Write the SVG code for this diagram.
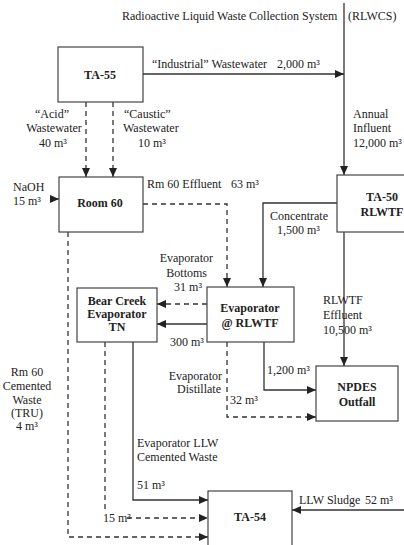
<svg xmlns="http://www.w3.org/2000/svg" width="404" height="545" viewBox="0 0 404 545">
<defs>
<style>
.box{fill:#fff;stroke:#444;stroke-width:1.2}
.bl{font-family:'Liberation Serif','Times New Roman','DejaVu Serif',serif;font-size:12px;font-weight:bold;fill:#222;text-anchor:middle}
.lb{font-family:'Liberation Serif','Times New Roman','DejaVu Serif',serif;font-size:12px;fill:#222}
.c{text-anchor:middle}
.e{text-anchor:end}
.s{fill:none;stroke:#333;stroke-width:1.3;marker-end:url(#ah)}
.d{fill:none;stroke:#333;stroke-width:1.3;stroke-dasharray:5,4;marker-end:url(#ah)}
.pl{fill:none;stroke:#333;stroke-width:1.3;stroke-dasharray:5,4}
</style>
<marker id="ah" markerUnits="userSpaceOnUse" markerWidth="9" markerHeight="8" refX="9" refY="4" orient="auto">
<path d="M0,0 L9,4 L0,8 z" fill="#222" stroke="none"/>
</marker>
</defs>
<rect width="404" height="545" fill="#fff"/>
<g id="connectors">
<path class="s" d="M344,3 V175"/>
<path class="s" d="M143,74 H344"/>
<path class="d" d="M86,102 V177"/>
<path class="d" d="M113,102 V177"/>
<path class="s" d="M50,199 H59"/>
<path class="d" d="M143,204 H227 V287"/>
<path class="s" d="M337,203 H263 V287"/>
<path class="s" d="M344,232 V366"/>
<path class="d" d="M207,304 H157"/>
<path class="s" d="M207,324 H157"/>
<path class="d" d="M227,342 V417 H316"/>
<path class="s" d="M264,342 V390 H316"/>
<path class="s" d="M133,342 V500 H208"/>
<path class="pl" d="M105,342 V510"/>
<path class="d" d="M127,518 H208"/>
<path class="d" d="M68,232 V537 H208"/>
<path class="s" d="M404,510 H292"/>
</g>
<g id="title">
<text class="lb" x="122" y="20">Radioactive Liquid Waste Collection System</text>
<text class="lb" x="348" y="20">(RLWCS)</text>
</g>
<g id="ta55">
<rect class="box" x="58" y="47" width="85" height="55"/>
<text class="bl" x="100" y="79">TA-55</text>
</g>
<g id="room60">
<rect class="box" x="59" y="177" width="84" height="55"/>
<text class="bl" x="100" y="207">Room 60</text>
</g>
<g id="ta50">
<rect class="box" x="337" y="175" width="80" height="57"/>
<text class="bl" x="382" y="201">TA-50</text>
<text class="bl" x="382" y="216">RLWTF</text>
</g>
<g id="evaporator">
<rect class="box" x="207" y="287" width="87" height="55"/>
<text class="bl" x="250" y="312">Evaporator</text>
<text class="bl" x="250" y="327">@ RLWTF</text>
</g>
<g id="bearcreek">
<rect class="box" x="77" y="288" width="80" height="54"/>
<text class="bl" x="117" y="305">Bear Creek</text>
<text class="bl" x="117" y="318">Evaporator</text>
<text class="bl" x="117" y="331">TN</text>
</g>
<g id="npdes">
<rect class="box" x="316" y="366" width="82" height="55"/>
<text class="bl" x="357" y="391">NPDES</text>
<text class="bl" x="357" y="406">Outfall</text>
</g>
<g id="ta54">
<rect class="box" x="208" y="491" width="84" height="60"/>
<text class="bl" x="250" y="521">TA-54</text>
</g>
<g id="labels">
<text class="lb" x="152" y="68">“Industrial” Wastewater</text>
<text class="lb" x="277" y="68">2,000 m³</text>
<text class="lb c" x="52" y="118">“Acid”</text>
<text class="lb c" x="54" y="132">Wastewater</text>
<text class="lb c" x="53" y="147">40 m³</text>
<text class="lb" x="124" y="118">“Caustic”</text>
<text class="lb" x="123" y="132">Wastewater</text>
<text class="lb" x="138" y="147">10 m³</text>
<text class="lb" x="353" y="118">Annual</text>
<text class="lb" x="353" y="132">Influent</text>
<text class="lb" x="353" y="147">12,000 m³</text>
<text class="lb" x="13" y="191">NaOH</text>
<text class="lb" x="13" y="205">15 m³</text>
<text class="lb" x="147" y="188">Rm 60 Effluent</text>
<text class="lb" x="231" y="188">63 m³</text>
<text class="lb" x="270" y="220">Concentrate</text>
<text class="lb" x="277" y="234">1,500 m³</text>
<text class="lb e" x="213" y="262">Evaporator</text>
<text class="lb e" x="207" y="277">Bottoms</text>
<text class="lb e" x="202" y="291">31 m³</text>
<text class="lb" x="170" y="346">300 m³</text>
<text class="lb e" x="222" y="380">Evaporator</text>
<text class="lb e" x="221" y="393">Distillate</text>
<text class="lb" x="230" y="404">32 m³</text>
<text class="lb" x="267" y="374">1,200 m³</text>
<text class="lb" x="323" y="304">RLWTF</text>
<text class="lb" x="323" y="319">Effluent</text>
<text class="lb" x="323" y="334">10,500 m³</text>
<text class="lb c" x="27" y="376">Rm 60</text>
<text class="lb c" x="27" y="390">Cemented</text>
<text class="lb c" x="27" y="404">Waste</text>
<text class="lb c" x="27" y="417">(TRU)</text>
<text class="lb c" x="27" y="430">4 m³</text>
<text class="lb" x="137" y="447">Evaporator LLW</text>
<text class="lb" x="137" y="461">Cemented Waste</text>
<text class="lb" x="137" y="489">51 m³</text>
<text class="lb" x="103" y="522">15 m³</text>
<text class="lb" x="299" y="504">LLW Sludge</text>
<text class="lb" x="365" y="504">52 m³</text>
</g>
</svg>
